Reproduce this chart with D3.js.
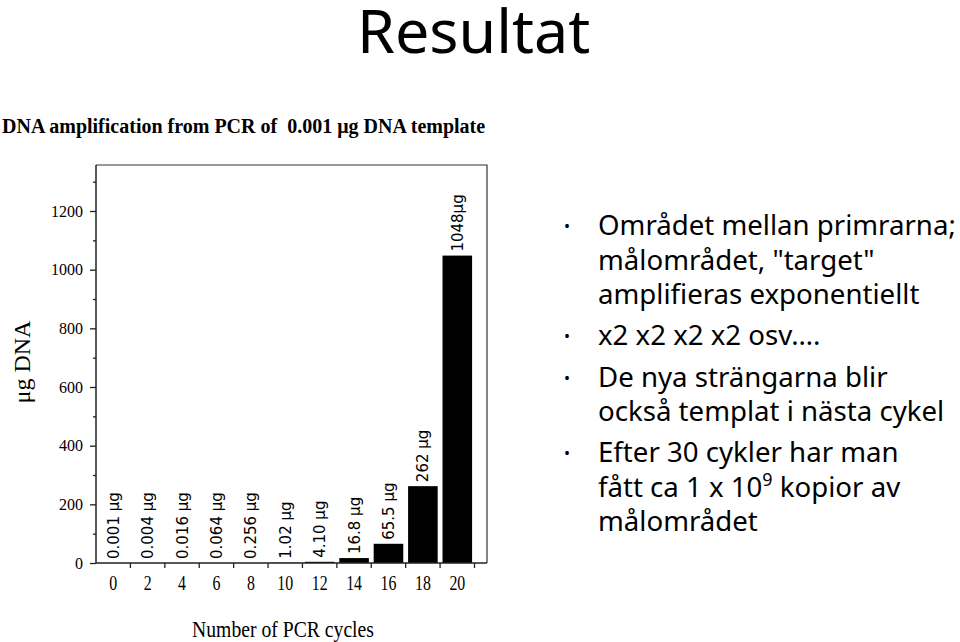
<!DOCTYPE html>
<html><head><meta charset="utf-8">
<script src="https://cdn.jsdelivr.net/npm/d3@7"></script>
<style>
html,body{margin:0;padding:0;background:#fff;}
svg{display:block;}
</style></head>
<body>
<script>
// ---- data ----
const cycles = [0, 2, 4, 6, 8, 10, 12, 14, 16, 18, 20];
const dnaAmount = [0.001, 0.004, 0.016, 0.064, 0.256, 1.02, 4.10, 16.8, 65.5, 262, 1048];
const barLabels = ["0.001 μg", "0.004 μg", "0.016 μg", "0.064 μg", "0.256 μg", "1.02 μg", "4.10 μg", "16.8 μg", "65.5 μg", "262 μg", "1048μg"];
const yTicks = [0, 200, 400, 600, 800, 1000, 1200];
const yMinorTicks = [100, 300, 500, 700, 900, 1100, 1300];
const chartTitle = "DNA amplification from PCR of  0.001 μg DNA template";
const xTitle = "Number of PCR cycles";
const yTitle = "μg DNA";
const slideTitle = "Resultat";
const bulletLines = [
  ["Området mellan primrarna;", "målområdet, \"target\"", "amplifieras exponentiellt"],
  ["x2 x2 x2 x2 osv…."],
  ["De nya strängarna blir", "också templat i nästa cykel"],
  ["Efter 30 cykler har man", "fått ca 1 x 10^9 kopior av", "målområdet"]
];

(function () {
const W = 960, H = 642;
const svg = d3.select("body").append("svg").attr("width", W).attr("height", H);
svg.append("rect").attr("width", W).attr("height", H).attr("fill", "#fff");

const comic = "'Comic Sans MS','Noto Sans',sans-serif";
const serif = "'Liberation Serif','Times New Roman',serif";

// slide title
svg.append("text").attr("x", 357).attr("y", 53)
  .attr("font-family", comic).attr("font-size", 61).attr("fill", "#000")
  .text(slideTitle);

// chart title
svg.append("text").attr("x", 2).attr("y", 133)
  .attr("font-family", serif).attr("font-weight", "bold").attr("font-size", 20)
  .attr("fill", "#000")
  .style("white-space", "pre")
  .text(chartTitle);

// scales
const pL = 96, pR = 487, pT = 165, pB = 563;
const x = d3.scaleBand().domain(cycles).range([pL, 474.5]).paddingInner(0.14).paddingOuter(0.07);
const xb = d3.scaleBand().domain(cycles).range([pL, 474.5]).padding(0);
const y = d3.scaleLinear().domain([0, 1200]).range([pB, 211]);

// frame
svg.append("path")
  .attr("d", `M${pL},${pT}H${pR}V${pB}`)
  .attr("fill", "none").attr("stroke", "#333").attr("stroke-width", 1.2);

// bars
svg.append("g").selectAll("rect").data(cycles).join("rect")
  .attr("x", (d) => x(d))
  .attr("width", x.bandwidth())
  .attr("y", (d, i) => y(dnaAmount[i]))
  .attr("height", (d, i) => pB - y(dnaAmount[i]))
  .attr("fill", "#000");

// bar labels
svg.append("g").selectAll("text").data(cycles).join("text")
  .attr("transform", (d, i) => `translate(${xb(d) + xb.bandwidth() / 2 + 5.5},${y(dnaAmount[i]) - 4}) rotate(-90)`)
  .attr("font-family", "'DejaVu Sans',sans-serif").attr("font-size", 15)
  .attr("fill", "#000")
  .text((d, i) => barLabels[i]);

// y axis
const yAxis = d3.axisLeft(y).tickValues(yTicks).tickSize(6).tickPadding(7).tickFormat(d3.format("d"));
const gy = svg.append("g").attr("transform", `translate(${pL},0)`).call(yAxis);
gy.select(".domain").attr("d", `M0,${pB}V${pT}`).attr("stroke", "#222").attr("stroke-width", 1.5);
gy.selectAll(".tick line").attr("stroke", "#222").attr("stroke-width", 1.3);
gy.selectAll(".tick text").attr("font-family", serif).attr("font-size", 16).attr("fill", "#000");
const yMinor = d3.axisLeft(y).tickValues(yMinorTicks).tickSize(3).tickFormat("");
const gym = svg.append("g").attr("transform", `translate(${pL},0)`).call(yMinor);
gym.select(".domain").remove();
gym.selectAll(".tick line").attr("stroke", "#222").attr("stroke-width", 1.3);

// x axis: ticks at band boundaries, labels at band centers
const xAxis = d3.axisBottom(xb).tickSize(0).tickPadding(0).tickFormat("");
const gx = svg.append("g").attr("transform", `translate(0,${pB})`).call(xAxis);
gx.select(".domain").attr("d", `M${pL},0H${pR}`).attr("stroke", "#222").attr("stroke-width", 1.5);
gx.selectAll(".tick").each(function (d) {
  const g = d3.select(this);
  g.append("line").attr("x1", xb.bandwidth() / 2).attr("x2", xb.bandwidth() / 2)
    .attr("y1", 0).attr("y2", 5).attr("stroke", "#222").attr("stroke-width", 1.3);
  g.append("text").attr("transform", "translate(0,27) scale(0.72,1)")
    .attr("text-anchor", "middle").attr("font-family", serif).attr("font-size", 22)
    .attr("fill", "#000").text(d);
});

// axis titles
svg.append("text").attr("transform", "translate(283,637) scale(0.82,1)")
  .attr("text-anchor", "middle").attr("font-family", serif).attr("font-size", 24)
  .attr("fill", "#000").text(xTitle);
svg.append("text").attr("transform", "translate(30,362) rotate(-90)")
  .attr("text-anchor", "middle").attr("font-family", serif).attr("font-size", 24)
  .attr("fill", "#000").text(yTitle);

// bullet text
const baselines = [[235, 270, 304], [345], [387, 421], [462, 497, 531]];
const tg = svg.append("g").attr("font-family", comic).attr("fill", "#000");
// fit font size so that the first line spans ~358px, as in the reference
const probe = tg.append("text").attr("font-size", 29).text(bulletLines[0][0]);
const fs = Math.min(29, 29 * 358 / probe.node().getComputedTextLength());
probe.remove();
tg.attr("font-size", fs);
bulletLines.forEach((lines, bi) => {
  tg.append("text").attr("x", 564).attr("y", baselines[bi][0] - 3).attr("font-size", 16).text("•");
  lines.forEach((ln, li) => {
    const t = tg.append("text").attr("x", 598).attr("y", baselines[bi][li]);
    if (ln.includes("^")) {
      const [a, rest] = ln.split("^");
      t.append("tspan").text(a);
      t.append("tspan").attr("dy", -11).attr("font-size", fs * 0.65).text(rest[0]);
      t.append("tspan").attr("dy", 11).text(rest.slice(1));
    } else {
      t.text(ln);
    }
  });
});
})();
</script>
</body></html>
